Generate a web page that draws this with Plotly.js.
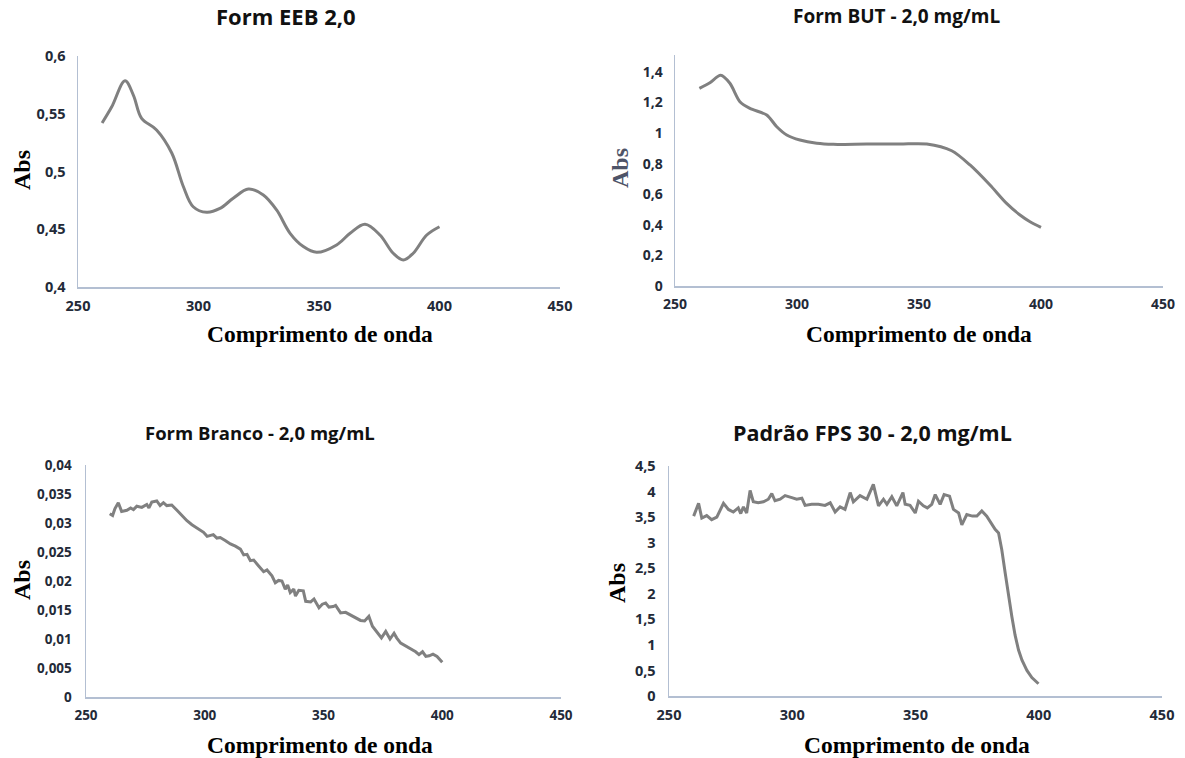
<!DOCTYPE html>
<html>
<head>
<meta charset="utf-8">
<script src="https://cdn.plot.ly/plotly-3.0.1.min.js"></script>
<style>html,body{margin:0;padding:0;background:#fff;}#chart{width:1185px;height:758px;}</style>
</head>
<body>
<div id="chart"></div>
<script>
// Panel titles
const panelTitles = ["Form EEB 2,0", "Form BUT - 2,0 mg/mL", "Form Branco - 2,0 mg/mL", "Padrão FPS 30 - 2,0 mg/mL"];
const xTitle = "Comprimento de onda";
const yTitle = "Abs";

// Form EEB 2,0
const eebX = [260, 264, 269.5, 273, 276.4, 282.6, 288.9, 293.7, 297.8, 303.4, 308.9, 314.4, 320.7, 326.9, 332.4, 338, 343.5, 349, 357.3, 362.9, 369.1, 375.3, 380.8, 385, 389.1, 394.7, 400];
const eebY = [0.542, 0.556, 0.5786, 0.566, 0.546, 0.536, 0.516, 0.487, 0.4695, 0.4647, 0.468, 0.4768, 0.4848, 0.4797, 0.4667, 0.4465, 0.435, 0.430, 0.4364, 0.4465, 0.4543, 0.445, 0.4292, 0.4234, 0.4292, 0.445, 0.4522];

// Form BUT - 2,0 mg/mL
const butX = [260, 264.3, 268.7, 272.5, 276.6, 280.7, 287.6, 291.7, 295.8, 301.2, 308.1, 314.9, 328.6, 342.2, 353.2, 363.4, 370.9, 379.1, 385.9, 391.4, 395.5, 400];
const butY = [1.292, 1.329, 1.377, 1.325, 1.205, 1.161, 1.118, 1.041, 0.987, 0.954, 0.933, 0.926, 0.928, 0.928, 0.928, 0.884, 0.791, 0.66, 0.54, 0.464, 0.42, 0.383];

// Form Branco - 2,0 mg/mL
const brancoX = [260, 261.2, 262.2, 263.6, 265, 267.2, 268.8, 270, 271.4, 273.5, 275.6, 276.5, 277.7, 279.8, 281.2, 282.6, 284, 286.1, 288.3, 290.4, 292.5, 294.6, 297.4, 299.5, 301, 302.3, 303.6, 305.1, 306.5, 308.6, 310.8, 312.9, 315, 316.4, 317.8, 319.2, 320.6, 322.7, 324.8, 326.2, 328.3, 329.7, 331.1, 332.5, 333.9, 334.9, 336, 337.5, 338.2, 339.6, 341.5, 342.5, 344.6, 346, 348.1, 349.5, 350.9, 352.3, 354.1, 355.1, 357.2, 359.3, 361.4, 363.5, 365.6, 367.3, 369.1, 370.6, 372.7, 374.4, 376.2, 378, 379.7, 380.8, 382.5, 384.6, 386.7, 388.8, 390.2, 391.7, 393.1, 394.5, 396.1, 397.8, 400];
const brancoY = [0.0316, 0.0313, 0.0325, 0.0335, 0.032, 0.0322, 0.0326, 0.0323, 0.0329, 0.0327, 0.0332, 0.0326, 0.0336, 0.0338, 0.033, 0.0335, 0.033, 0.0331, 0.0322, 0.0313, 0.0304, 0.0297, 0.029, 0.0284, 0.0277, 0.0279, 0.028, 0.0274, 0.0275, 0.027, 0.0264, 0.026, 0.0255, 0.0245, 0.0246, 0.0235, 0.0236, 0.0226, 0.0216, 0.0219, 0.0209, 0.0197, 0.0201, 0.02, 0.0186, 0.0193, 0.018, 0.0186, 0.0174, 0.0184, 0.0183, 0.0165, 0.0164, 0.0169, 0.0154, 0.016, 0.0162, 0.0155, 0.0156, 0.0158, 0.0145, 0.0146, 0.0141, 0.0136, 0.0132, 0.0131, 0.0139, 0.0122, 0.011, 0.0102, 0.0113, 0.01, 0.011, 0.0102, 0.0093, 0.0088, 0.0084, 0.0078, 0.0073, 0.0078, 0.007, 0.0071, 0.0074, 0.007, 0.006];

// Padrão FPS 30 - 2,0 mg/mL
const padraoX = [260, 262, 263.3, 265.3, 267.3, 269.4, 272.1, 274.1, 276.1, 278.1, 279.1, 280.2, 281.5, 282.9, 284.2, 286.2, 288.3, 290.3, 291.7, 293, 295.1, 297.1, 299.8, 301.8, 303.9, 305.2, 307.9, 310.6, 313.3, 315.4, 317.4, 319.4, 321.4, 323.5, 324.8, 327.5, 330.3, 332.9, 335, 337, 338.4, 340.4, 342.4, 344.9, 345.8, 347.8, 349.9, 351.2, 353.2, 354.8, 356.6, 358, 360, 361.6, 363.8, 365.4, 367.5, 368.8, 370.8, 373.1, 374.9, 376.9, 378.9, 381, 382.3, 383.7, 385, 386.4, 387.7, 389.1, 390.4, 391.8, 393.2, 395.2, 397.2, 399.9];
const padraoY = [3.52, 3.77, 3.48, 3.53, 3.45, 3.5, 3.77, 3.65, 3.6, 3.68, 3.57, 3.7, 3.58, 4.02, 3.8, 3.78, 3.8, 3.85, 3.96, 3.82, 3.85, 3.92, 3.88, 3.85, 3.87, 3.73, 3.75, 3.75, 3.73, 3.78, 3.6, 3.7, 3.65, 3.98, 3.8, 3.92, 3.85, 4.14, 3.72, 3.85, 3.75, 3.9, 3.72, 3.98, 3.75, 3.73, 3.58, 3.81, 3.72, 3.68, 3.75, 3.94, 3.75, 3.94, 3.91, 3.65, 3.58, 3.35, 3.55, 3.52, 3.52, 3.62, 3.52, 3.35, 3.26, 3.19, 2.86, 2.4, 1.95, 1.55, 1.19, 0.9, 0.7, 0.5, 0.36, 0.24];

const W = 1185, H = 758;
const lineStyle = {color: '#808080', width: 3};

const traces = [
  {x: eebX, y: eebY, xaxis: 'x', yaxis: 'y', mode: 'lines', line: Object.assign({shape: 'spline', smoothing: 1}, lineStyle)},
  {x: butX, y: butY, xaxis: 'x2', yaxis: 'y2', mode: 'lines', line: Object.assign({shape: 'spline', smoothing: 0.8}, lineStyle)},
  {x: brancoX, y: brancoY, xaxis: 'x3', yaxis: 'y3', mode: 'lines', line: Object.assign({}, lineStyle)},
  {x: padraoX, y: padraoY, xaxis: 'x4', yaxis: 'y4', mode: 'lines', line: Object.assign({}, lineStyle)}
];

// plot areas in pixels [left, right, top, bottom]
const boxes = [[78, 560, 56, 287], [675, 1163, 55, 286], [86, 561, 465, 697], [669, 1162, 466, 696]];
const yRanges = [[0.4, 0.6], [0, 1.51], [0, 0.04], [0, 4.5]];
const yDticks = [0.05, 0.2, 0.005, 0.5];
const tickSizes = [14.5, 14, 13.5, 14.5];
const yStandoffs = [8, 8, 10, 9];

const layout = {
  width: W, height: H,
  margin: {l: 0, r: 0, t: 0, b: 0},
  paper_bgcolor: '#ffffff', plot_bgcolor: '#ffffff',
  showlegend: false,
  separators: ',.',
  annotations: []
};

const axisLine = '#b3bfd2';
boxes.forEach((b, i) => {
  const s = i === 0 ? '' : String(i + 1);
  const tf = {family: 'Open Sans, sans-serif', size: tickSizes[i], color: '#232a38', weight: 700};
  layout['xaxis' + s] = {
    domain: [b[0] / W, b[1] / W], anchor: 'y' + s,
    range: [250, 450], dtick: 50, tick0: 250,
    showgrid: false, zeroline: false, showline: true, linecolor: axisLine, linewidth: 1.5,
    ticks: '', tickfont: tf, ticklabelstandoff: 5, fixedrange: true
  };
  layout['yaxis' + s] = {
    domain: [1 - b[3] / H, 1 - b[2] / H], anchor: 'x' + s,
    range: yRanges[i], dtick: yDticks[i], tick0: 0,
    showgrid: false, zeroline: false, showline: true, linecolor: axisLine, linewidth: 1.5,
    ticks: '', tickfont: tf, ticklabelstandoff: yStandoffs[i], fixedrange: true
  };
});

const titlePos = [[286, 16], [897, 16], [260, 432], [872, 432]];
const titleSizes = [22, 19, 18.5, 21.5];
titlePos.forEach((p, i) => {
  layout.annotations.push({
    text: panelTitles[i], xref: 'paper', yref: 'paper', x: p[0] / W, y: 1 - p[1] / H,
    xanchor: 'center', yanchor: 'middle', showarrow: false,
    font: {family: 'Open Sans, sans-serif', size: titleSizes[i], color: '#111111', weight: 700}
  });
});

const xTitlePos = [[320, 334], [919, 334], [320, 745], [917, 745]];
xTitlePos.forEach((p, i) => {
  layout.annotations.push({
    text: xTitle, xref: 'paper', yref: 'paper', x: p[0] / W, y: 1 - p[1] / H,
    xanchor: 'center', yanchor: 'middle', showarrow: false,
    font: {family: 'Liberation Serif, serif', size: 23.5, color: '#000000', weight: 700}
  });
});

const yTitlePos = [[22, 170], [620, 168], [22, 580], [617, 583]];
const yTitleColors = ['#000000', '#4e5468', '#000000', '#000000'];
yTitlePos.forEach((p, i) => {
  layout.annotations.push({
    text: yTitle, xref: 'paper', yref: 'paper', x: p[0] / W, y: 1 - p[1] / H,
    xanchor: 'center', yanchor: 'middle', showarrow: false, textangle: -90,
    font: {family: 'Liberation Serif, serif', size: 24, color: yTitleColors[i], weight: 700}
  });
});

Plotly.newPlot('chart', traces, layout, {displayModeBar: false, staticPlot: true});
</script>
</body>
</html>
